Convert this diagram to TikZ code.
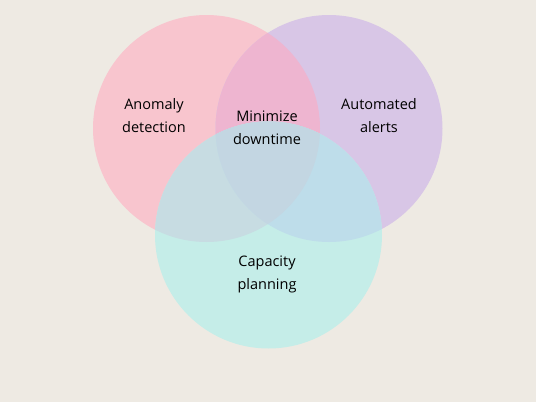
\documentclass[tikz,border=0pt]{standalone}
\usepackage{fontspec}
\setmainfont{Open Sans}
\begin{document}
\begin{tikzpicture}[x=1pt,y=-1pt,
  lbl/.style={align=center,text=black,font=\fontsize{14.5}{23}\selectfont}]
\definecolor{bg}{RGB}{238,234,227}
\definecolor{pinkc}{RGB}{248,197,206}
\definecolor{purplec}{RGB}{216,198,230}
\definecolor{cyanc}{RGB}{197,237,232}
\definecolor{pinkpurple}{RGB}{238,181,208}
\definecolor{pinkcyan}{RGB}{199,220,226}
\definecolor{purplecyan}{RGB}{190,221,234}
\definecolor{allthree}{RGB}{195,214,226}
\def\PA{(206.5,128.5) circle (113.5)}
\def\PB{(329,128.5) circle (113.5)}
\def\PC{(268.5,235) circle (113.5)}
\fill[bg] (0,0) rectangle (536,402);
\useasboundingbox (0,0) rectangle (536,402);
\fill[pinkc] \PA;
\fill[purplec] \PB;
\begin{scope}\clip \PA; \fill[pinkpurple] \PB; \end{scope}
\fill[cyanc] \PC;
\begin{scope}\clip \PC; \fill[pinkcyan] \PA; \end{scope}
\begin{scope}\clip \PC; \fill[purplecyan] \PB; \end{scope}
\begin{scope}\clip \PC; \clip \PA; \fill[allthree] \PB; \end{scope}
\node[lbl] (a) at (154,116) {Anomaly\\detection};
\node[lbl] (m) at (267,128) {Minimize\\downtime};
\node[lbl] (b) at (379,116) {Automated\\alerts};
\node[lbl] (c) at (267,274) {Capacity\\planning};
\end{tikzpicture}
\end{document}
